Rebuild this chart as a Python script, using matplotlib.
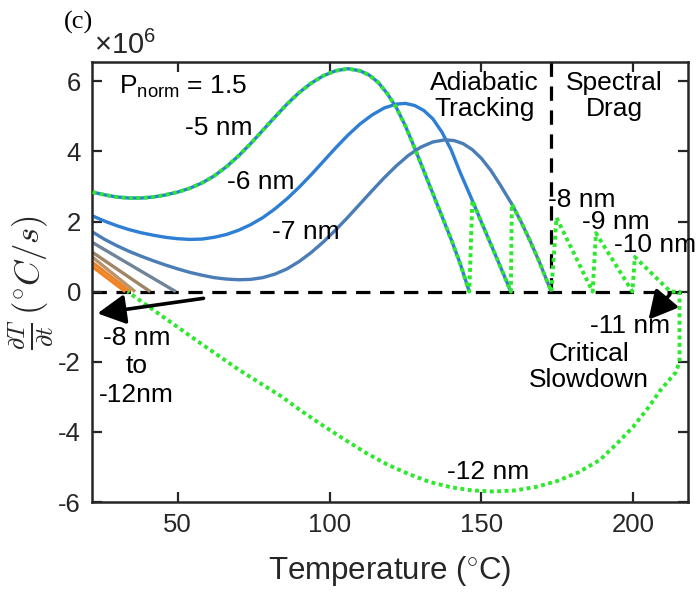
import numpy as np
import matplotlib
matplotlib.use("Agg")
import matplotlib.pyplot as plt

plt.rcParams['font.family'] = ['Liberation Sans', 'DejaVu Sans']
plt.rcParams['mathtext.fontset'] = 'custom'
plt.rcParams['mathtext.rm'] = 'Liberation Sans'
plt.rcParams['mathtext.it'] = 'Liberation Sans:italic'

# heating rate dT/dt (x1e6 degC/s) vs temperature, P_norm = 1.5
T_5 = [22, 26, 30, 34, 38, 42, 46, 50, 54, 58, 62, 66, 70, 74, 78, 82, 86, 90, 94, 98, 102, 106,
       110, 113, 116, 119, 122, 125, 128, 131, 134, 137, 140, 143, 146]
R_5 = [2.84, 2.76, 2.70, 2.67, 2.67, 2.70, 2.76, 2.84, 2.95, 3.10, 3.30, 3.56, 3.87, 4.22, 4.60, 4.98,
       5.35, 5.68, 5.95, 6.16, 6.30, 6.36, 6.30, 6.18, 5.97, 5.65, 5.25, 4.72, 4.10, 3.45, 2.80, 2.15,
       1.50, 0.80, 0.0]

T_6 = [22, 26, 30, 34, 38, 42, 46, 50, 54, 58, 62, 66, 70, 74, 78, 82, 86, 90, 94, 98, 102, 106,
       110, 114, 118, 122, 125, 128, 131, 134, 137, 140, 143, 146, 147, 150, 153, 156, 159.7]
R_6 = [2.16, 2.01, 1.88, 1.77, 1.68, 1.61, 1.55, 1.51, 1.49, 1.50, 1.55, 1.63, 1.75, 1.91, 2.11, 2.36,
       2.65, 2.98, 3.34, 3.72, 4.10, 4.46, 4.78, 5.04, 5.24, 5.35, 5.37, 5.31, 5.17, 4.93, 4.55, 4.05,
       3.40, 2.80, 2.60, 1.98, 1.37, 0.76, 0.0]

T_7 = [22, 26, 30, 34, 38, 42, 46, 50, 54, 58, 62, 66, 70, 74, 78, 82, 86, 90, 94, 98, 102, 106,
       110, 114, 118, 122, 126, 130, 134, 138, 141, 144, 147, 150, 153, 156, 160, 163, 166, 169, 173]
R_7 = [1.70, 1.49, 1.31, 1.15, 1.01, 0.88, 0.76, 0.65, 0.55, 0.47, 0.40, 0.36, 0.34, 0.35, 0.40, 0.50,
       0.65, 0.86, 1.12, 1.42, 1.76, 2.12, 2.50, 2.88, 3.25, 3.59, 3.89, 4.12, 4.27, 4.33, 4.31, 4.22,
       4.05, 3.80, 3.47, 3.07, 2.50, 2.00, 1.45, 0.86, 0.0]

# -8 ... -12 nm only heat up to these temperatures
T_short = [[22, 49.4], [22, 41.0], [22, 36.0], [22, 34.4], [22, 32.8]]
R_short = [[1.40, 0.0], [1.12, 0.0], [0.98, 0.0], [0.83, 0.0], [0.71, 0.0]]

# spectral drag sawtooth (-8, -9, -10, -11 nm)
T_drag = [173, 174.7, 186.6, 187.7, 199.7, 200.5, 212.2, 215.2]
R_drag = [0.0, 2.11, 0.0, 1.67, 0.0, 0.99, 0.0, 0.0]

# -12 nm branch back down after critical slowdown
T_crit = [215.2, 214, 211.5, 209, 205, 200, 195, 189, 182, 175, 168, 161, 154, 147, 140, 133, 126,
          119, 112, 105, 98, 91, 84, 77, 70, 63, 56, 49, 42, 33.5]
R_crit = [-2.0, -2.3, -2.55, -2.8, -3.3, -3.85, -4.3, -4.8, -5.15, -5.4, -5.57, -5.67, -5.7, -5.67,
          -5.58, -5.43, -5.2, -4.93, -4.6, -4.22, -3.83, -3.42, -2.98, -2.6, -2.22, -1.8, -1.38,
          -0.95, -0.52, 0.0]

col_main = ['#2b7fd6', '#2e7ed4', '#4a7db5']
col_short = ['#6f8498', '#a08565', '#bb936a', '#e8862e', '#f58220']
green = '#2ee82e'
ink = '#262626'

fig = plt.figure(figsize=(6.98, 6.01), dpi=100)
ax = fig.add_axes([0.1318, 0.1647, 0.8539, 0.7321])
ax.set_xlim(21.8, 218)
ax.set_ylim(-6, 6.55)

dash = (0, (4.5, 3.0))
ax.axhline(0, color='k', lw=2.3, linestyle=dash, zorder=1.5)
zero_frac = (0 - ax.get_ylim()[0]) / (ax.get_ylim()[1] - ax.get_ylim()[0])
ax.axvline(T_drag[0], ymin=zero_frac, ymax=1, color='k', lw=2.3, linestyle=dash, zorder=1.5)

for T, R, c in zip([T_5, T_6, T_7], [R_5, R_6, R_7], col_main):
    ax.plot(T, R, color=c, lw=2.4, solid_capstyle='butt', solid_joinstyle='round')
for T, R, c in zip(T_short, R_short, col_short):
    ax.plot(T, R, color=c, lw=2.4, solid_capstyle='butt')

# trajectory: ride the -5 nm curve, hop down to -6, -7, then spectral drag
T_6a, R_6a = np.array(T_6), np.array(R_6)
T_7a, R_7a = np.array(T_7), np.array(R_7)
path_T = np.concatenate([T_5, T_6a[T_6a >= 147], T_7a[T_7a >= 160], T_drag[1:], T_crit])
path_R = np.concatenate([R_5, R_6a[T_6a >= 147], R_7a[T_7a >= 160], R_drag[1:], R_crit])
ax.plot(path_T, path_R, color=green, lw=2.8, linestyle=(0, (1, 0.9)), dash_capstyle='butt', zorder=3)

fs = 19
ax.text(30.6, 5.83, r'P$_{\mathrm{norm}}$ = 1.5', fontsize=fs, ha='left', va='center', math_fontfamily='custom')
ax.text(63.4, 4.68, '-5 nm', fontsize=fs, ha='center', va='center')
ax.text(77.3, 3.12, '-6 nm', fontsize=fs, ha='center', va='center')
ax.text(92.1, 1.70, '-7 nm', fontsize=fs, ha='center', va='center')
ax.text(151, 5.57, 'Adiabatic\nTracking', fontsize=fs, ha='center', va='center', linespacing=1.1)
ax.text(193.7, 5.57, 'Spectral\nDrag', fontsize=fs, ha='center', va='center', linespacing=1.1)
ax.text(172, 2.61, '-8 nm', fontsize=fs, ha='left', va='center')
ax.text(183.2, 1.98, '-9 nm', fontsize=fs, ha='left', va='center')
ax.text(193.7, 1.32, '-10 nm', fontsize=fs, ha='left', va='center')
ax.text(199, -0.99, '-11 nm', fontsize=fs, ha='center', va='center')
ax.text(185.5, -2.16, 'Critical\nSlowdown', fontsize=fs, ha='center', va='center', linespacing=1.1)
ax.text(152.3, -5.13, '-12 nm', fontsize=fs, ha='center', va='center')
ax.text(36.5, -2.13, '-8 nm\nto\n-12nm', fontsize=fs, ha='center', va='center', linespacing=1.25)

arrow = dict(arrowstyle='-|>,head_length=0.85,head_width=0.45', lw=2.6, color='k',
             shrinkA=0, shrinkB=0, mutation_scale=20)
ax.annotate('', xy=(23.6, -0.62), xytext=(58.5, -0.19), arrowprops=arrow)
ax.annotate('', xy=(205, -0.8), xytext=(212, -0.08), arrowprops=arrow)

ax.set_xticks([50, 100, 150, 200])
ax.set_yticks([-6, -4, -2, 0, 2, 4, 6])
ax.set_yticklabels(['-6', '-4', '-2', '0', '2', '4', '6'])
ax.tick_params(direction='in', length=7, width=1.6, top=True, right=True,
               labelsize=18.5, colors=ink, pad=8)
for s in ax.spines.values():
    s.set_linewidth(1.8)
    s.set_color(ink)

ax.set_xlabel(r'Temperature ($^{\circ}$C)', fontsize=22.5, color=ink, labelpad=12,
              math_fontfamily='custom')
ax.set_ylabel(r'$\frac{\partial T}{\partial t}\,(^{\circ}C/s)$', fontsize=25, color=ink,
              labelpad=2, math_fontfamily='cm')
fig.text(0.135, 0.925, r'$\times$10$^6$', fontsize=21, color=ink, ha='left', va='center',
         math_fontfamily='custom')
fig.text(0.092, 0.963, '(c)', fontsize=19, family='Liberation Serif', ha='left', va='center')

fig.savefig('out.png', dpi=100)
